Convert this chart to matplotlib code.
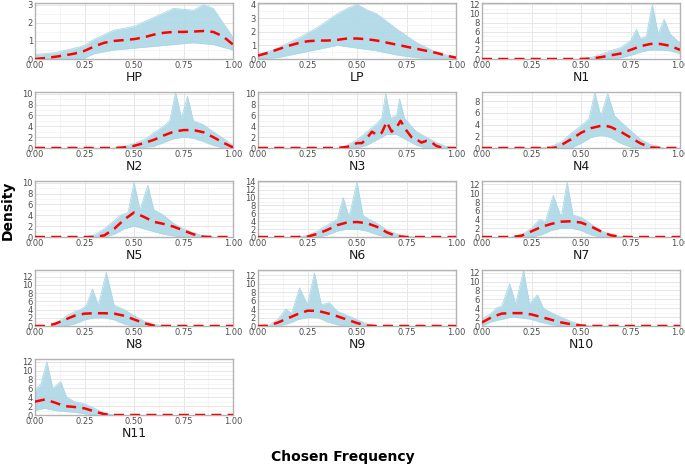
import numpy as np
import matplotlib.pyplot as plt
from matplotlib.ticker import MultipleLocator

# panel names and y-axis tops
panels = ['HP', 'LP', 'N1', 'N2', 'N3', 'N4', 'N5', 'N6', 'N7', 'N8', 'N9', 'N10', 'N11']
ytops = [3.1, 4.1, 12.3, 10.3, 10.3, 9.6, 10.3, 14.2, 12.8, 13.6, 13.2, 12.6, 12.6]
ysteps = [1, 1, 2, 2, 2, 2, 2, 2, 2, 2, 2, 2, 2]

# mean density (red dashed), points (x, y)
mean_HP = [(0, 0), (.05, .05), (.1, .12), (.15, .2), (.2, .3), (.25, .45), (.3, .7), (.35, .9), (.4, 1.0), (.45, 1.05),
           (.5, 1.1), (.55, 1.2), (.6, 1.35), (.65, 1.45), (.7, 1.5), (.75, 1.5), (.8, 1.52), (.85, 1.55), (.9, 1.5),
           (.95, 1.25), (1, .8)]
mean_LP = [(0, .25), (.05, .45), (.1, .7), (.15, .95), (.2, 1.15), (.25, 1.3), (.3, 1.35), (.35, 1.35), (.4, 1.4),
           (.45, 1.5), (.5, 1.5), (.55, 1.45), (.6, 1.35), (.65, 1.2), (.7, 1.05), (.75, .9), (.8, .75), (.85, .6),
           (.9, .45), (.95, .25), (1, .1)]
mean_N1 = [(0, 0), (.5, 0), (.55, .1), (.6, .4), (.65, .8), (.7, 1.2), (.75, 2.0), (.8, 2.8), (.85, 3.3), (.9, 3.3),
           (.95, 2.9), (1, 2.0)]
mean_N2 = [(0, 0), (.4, 0), (.45, .1), (.5, .4), (.55, .9), (.6, 1.5), (.65, 2.3), (.7, 3.0), (.75, 3.3), (.8, 3.3),
           (.85, 2.9), (.9, 2.0), (.95, 1.0), (1, .1)]
mean_N3 = [(0, 0), (.4, 0), (.45, .2), (.5, .9), (.525, .9), (.55, 1.8), (.575, 3.0), (.6, 2.4), (.625, 2.8),
           (.65, 4.8), (.675, 3.0), (.7, 3.8), (.72, 5.0), (.75, 3.2), (.775, 2.0), (.8, 1.6), (.825, 1.0),
           (.85, 1.3), (.875, 1.1), (.9, .4), (.925, .1), (.95, 0), (1, 0)]
mean_N4 = [(0, 0), (.35, 0), (.375, .1), (.4, .5), (.45, 1.5), (.5, 2.6), (.55, 3.4), (.6, 3.8), (.625, 3.8),
           (.65, 3.6), (.7, 2.8), (.75, 1.8), (.8, .8), (.85, .1), (.9, 0), (1, 0)]
mean_N5 = [(0, 0), (.3, 0), (.35, .3), (.4, 1.5), (.45, 3.2), (.5, 4.5), (.55, 3.7), (.6, 2.8), (.65, 2.4),
           (.7, 1.9), (.75, 1.2), (.8, .5), (.85, .05), (.9, 0), (1, 0)]
mean_N6 = [(0, 0), (.2, 0), (.25, .1), (.3, .8), (.35, 1.8), (.4, 3.0), (.45, 3.7), (.5, 3.8), (.55, 3.5), (.6, 2.6),
           (.65, 1.2), (.7, .2), (.75, 0), (1, 0)]
mean_N7 = [(0, 0), (.15, 0), (.2, .3), (.25, 1.3), (.3, 2.3), (.35, 3.0), (.4, 3.5), (.45, 3.6), (.5, 3.3), (.55, 2.4),
           (.6, 1.3), (.65, .4), (.7, .05), (.75, 0), (1, 0)]
mean_N8 = [(0, 0), (.05, 0), (.1, .5), (.15, 1.5), (.2, 2.5), (.25, 3.0), (.3, 3.1), (.35, 3.1), (.4, 3.0), (.45, 2.5),
           (.5, 1.6), (.55, .7), (.6, .1), (.65, 0), (1, 0)]
mean_N9 = [(0, 0), (.05, .05), (.1, .8), (.15, 1.8), (.2, 2.8), (.25, 3.6), (.3, 3.6), (.35, 3.0), (.4, 2.3),
           (.45, 1.5), (.5, .7), (.55, .1), (.6, 0), (1, 0)]
mean_N10 = [(0, .8), (.05, 2.0), (.1, 2.8), (.15, 2.9), (.2, 2.9), (.25, 2.6), (.3, 2.0), (.35, 1.4), (.4, .8),
            (.45, .4), (.5, .1), (.55, 0), (1, 0)]
mean_N11 = [(0, 3.0), (.05, 3.5), (.1, 2.8), (.15, 2.0), (.2, 1.8), (.25, 1.5), (.3, .8), (.35, .2), (.4, 0), (1, 0)]

# upper edge of the bundle of bootstrap densities (light blue)
upper_HP = [(0, .25), (.1, .35), (.2, .6), (.25, .75), (.3, 1.1), (.4, 1.6), (.5, 1.8), (.6, 2.3), (.7, 2.8),
            (.8, 2.7), (.85, 3.0), (.9, 2.8), (.95, 2.0), (1, 1.2)]
upper_LP = [(0, .3), (.1, .8), (.2, 1.5), (.3, 2.3), (.4, 3.3), (.45, 3.7), (.5, 4.0), (.55, 3.6), (.6, 3.3),
            (.7, 2.2), (.8, 1.2), (.9, .5), (1, .1)]
upper_N1 = [(.5, 0), (.55, .3), (.6, 1.0), (.65, 1.8), (.7, 2.5), (.75, 4.0), (.78, 6.5), (.8, 4.5), (.83, 5.0),
            (.86, 12.0), (.89, 5.5), (.92, 8.7), (.95, 5.5), (1, 3.5)]
upper_N2 = [(.4, 0), (.45, .3), (.5, .8), (.55, 1.5), (.6, 2.8), (.65, 4.0), (.68, 5.0), (.71, 10.2), (.74, 5.5),
            (.77, 9.5), (.8, 5.0), (.85, 4.3), (.9, 3.0), (.95, 1.8), (1, .5)]
upper_N3 = [(.4, 0), (.45, .5), (.5, 1.5), (.55, 3.0), (.6, 4.5), (.625, 5.5), (.645, 10.0), (.67, 5.5), (.7, 6.0),
            (.715, 9.0), (.74, 5.5), (.775, 4.0), (.8, 3.0), (.85, 2.0), (.9, 1.0), (.95, .3), (1, 0)]
upper_N4 = [(.3, 0), (.35, .3), (.4, 1.0), (.45, 2.5), (.5, 3.8), (.54, 5.0), (.57, 9.5), (.6, 5.5), (.635, 9.3),
            (.67, 5.5), (.7, 4.5), (.75, 3.0), (.8, 1.5), (.85, .6), (.9, .2), (.92, 0)]
upper_N5 = [(.25, 0), (.3, .4), (.35, 1.5), (.4, 3.0), (.43, 4.0), (.47, 4.5), (.5, 10.0), (.53, 5.0), (.57, 9.5),
            (.6, 5.0), (.65, 4.0), (.7, 2.5), (.75, 1.5), (.8, .8), (.85, .2), (.9, 0)]
upper_N6 = [(.2, 0), (.25, .4), (.3, 1.5), (.35, 3.0), (.4, 4.5), (.43, 10.0), (.46, 5.0), (.5, 14.0), (.53, 5.5),
            (.56, 4.5), (.6, 3.5), (.65, 1.8), (.7, .8), (.75, .1), (.8, 0)]
upper_N7 = [(.15, 0), (.2, .5), (.25, 2.0), (.29, 4.0), (.32, 3.5), (.36, 9.5), (.4, 4.5), (.43, 12.5), (.46, 5.0),
            (.5, 4.5), (.55, 3.0), (.6, 1.5), (.65, .5), (.7, .1), (.72, 0)]
upper_N8 = [(.08, 0), (.12, 1.0), (.16, 2.5), (.2, 3.5), (.23, 4.0), (.26, 5.0), (.29, 9.0), (.32, 5.0), (.36, 13.0),
            (.4, 5.0), (.45, 4.0), (.5, 2.5), (.55, 1.2), (.6, .4), (.65, 0)]
upper_N9 = [(.05, 0), (.1, 1.5), (.14, 4.0), (.17, 3.0), (.21, 9.0), (.25, 5.0), (.285, 12.5), (.32, 5.0),
            (.36, 5.5), (.4, 3.5), (.45, 2.5), (.5, 1.5), (.55, .5), (.6, 0)]
upper_N10 = [(0, 1.5), (.05, 3.0), (.07, 4.0), (.1, 4.5), (.14, 9.5), (.17, 5.0), (.21, 12.5), (.24, 5.0), (.28, 7.0),
             (.31, 4.0), (.35, 3.0), (.4, 2.0), (.45, 1.0), (.5, .3), (.55, 0)]
upper_N11 = [(0, 5.5), (.03, 7.0), (.06, 12.0), (.09, 6.0), (.13, 7.5), (.16, 4.0), (.2, 3.0), (.25, 2.5), (.3, 1.5),
             (.35, .5), (.4, 0)]

# lower edge of the bundle
lower_HP = [(0, 0), (.2, 0), (.25, .05), (.3, .3), (.4, .5), (.5, .6), (.6, .7), (.7, .8), (.8, .9), (.9, .8), (1, .5)]
lower_LP = [(0, 0), (.1, .1), (.2, .4), (.3, .7), (.4, 1.0), (.5, .8), (.6, .6), (.7, .3), (.8, .1), (.9, 0), (1, 0)]
lower_N1 = [(.6, 0), (.7, .2), (.75, .8), (.8, 1.5), (.85, 2.0), (.9, 2.0), (.95, 1.8), (1, 1.2)]
lower_N2 = [(.5, 0), (.6, .3), (.65, 1.0), (.7, 1.7), (.75, 2.0), (.8, 1.8), (.85, 1.2), (.9, .5), (.95, 0)]
lower_N3 = [(.5, 0), (.55, .5), (.6, 1.5), (.65, 2.5), (.7, 2.5), (.75, 1.5), (.8, .5), (.85, 0)]
lower_N4 = [(.45, 0), (.5, .8), (.55, 1.8), (.6, 2.2), (.65, 1.8), (.7, .8), (.75, .2), (.8, 0)]
lower_N5 = [(.35, 0), (.4, .5), (.45, 1.5), (.5, 2.0), (.55, 1.5), (.6, 1.0), (.65, .5), (.7, .2), (.75, 0)]
lower_N6 = [(.3, 0), (.35, .5), (.4, 1.5), (.45, 2.0), (.5, 2.0), (.55, 1.5), (.6, .6), (.65, 0)]
lower_N7 = [(.25, 0), (.3, .5), (.35, 1.5), (.4, 2.0), (.45, 2.0), (.5, 1.5), (.55, .5), (.6, 0)]
lower_N8 = [(.15, 0), (.2, .5), (.25, 1.5), (.3, 2.0), (.35, 2.0), (.4, 1.5), (.45, .5), (.5, 0)]
lower_N9 = [(.1, 0), (.15, .5), (.2, 1.5), (.25, 2.0), (.3, 2.0), (.35, 1.0), (.4, .3), (.45, 0)]
lower_N10 = [(0, 0), (.05, 1.0), (.1, 1.5), (.15, 2.0), (.2, 1.8), (.25, 1.5), (.3, .8), (.35, .3), (.4, 0)]
lower_N11 = [(0, 1.0), (.05, 1.5), (.1, 1.0), (.15, .8), (.2, .6), (.25, .3), (.3, 0)]

means = [mean_HP, mean_LP, mean_N1, mean_N2, mean_N3, mean_N4, mean_N5, mean_N6, mean_N7, mean_N8, mean_N9,
         mean_N10, mean_N11]
uppers = [upper_HP, upper_LP, upper_N1, upper_N2, upper_N3, upper_N4, upper_N5, upper_N6, upper_N7, upper_N8,
          upper_N9, upper_N10, upper_N11]
lowers = [lower_HP, lower_LP, lower_N1, lower_N2, lower_N3, lower_N4, lower_N5, lower_N6, lower_N7, lower_N8,
          lower_N9, lower_N10, lower_N11]

blue = '#add8e6'
fig = plt.figure(figsize=(6.85, 4.65), dpi=100)

lefts = [35, 258, 482]
tops = [3, 92, 181, 270, 359]
W, H = 198, 56

for i, name in enumerate(panels):
    r, c = divmod(i, 3)
    ax = fig.add_axes([lefts[c] / 685, 1 - (tops[r] + H) / 465, W / 685, H / 465])

    up = np.array(uppers[i])
    lo = np.array(lowers[i])
    # put both edges on a shared x grid taken from their own points
    xs = np.union1d(up[:, 0], lo[:, 0])
    yu = np.interp(xs, up[:, 0], up[:, 1], left=0, right=0)
    yl = np.interp(xs, lo[:, 0], lo[:, 1], left=0, right=0)
    ax.fill_between(xs, yl, np.maximum(yu, yl), color=blue, alpha=0.9, lw=0, zorder=2)
    ax.plot(up[:, 0], up[:, 1], color=blue, lw=0.6, zorder=2)
    ax.plot(lo[:, 0], lo[:, 1], color=blue, lw=0.6, zorder=2)

    m = np.array(means[i])
    ax.plot(m[:, 0], m[:, 1], color='#ff0000', lw=1.8, ls=(0, (4, 2.5)), zorder=3)

    ax.set_xlim(0, 1)
    ax.set_ylim(0, ytops[i])
    ax.xaxis.set_major_locator(MultipleLocator(0.25))
    ax.xaxis.set_minor_locator(MultipleLocator(0.125))
    ax.yaxis.set_major_locator(MultipleLocator(ysteps[i]))
    ax.yaxis.set_minor_locator(MultipleLocator(ysteps[i] / 2))
    ax.xaxis.set_major_formatter(plt.FuncFormatter(lambda v, p: f'{v:.2f}'))
    ax.grid(which='major', color='#e6e6e6', lw=0.7, zorder=0)
    ax.grid(which='minor', color='#f2f2f2', lw=0.5, zorder=0)
    ax.set_axisbelow(True)
    for s in ax.spines.values():
        s.set_color('#b3b3b3')
        s.set_linewidth(1.0)
    ax.tick_params(which='both', length=0, pad=1.5, labelsize=6, labelcolor='#4d4d4d')
    ax.set_xlabel(name, fontsize=9, labelpad=1, color='#1a1a1a')

fig.text(0.012, 0.548, 'Density', rotation=90, fontsize=10, fontweight='bold', ha='center', va='center')
fig.text(0.5, 0.017, 'Chosen Frequency', fontsize=10, fontweight='bold', ha='center', va='center')

fig.savefig('out.png', dpi=100)
